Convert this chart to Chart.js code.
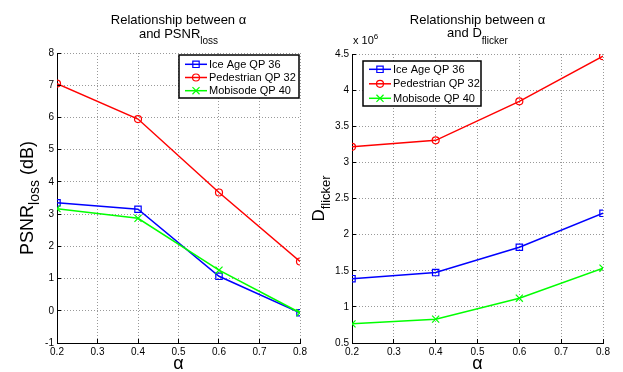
<!DOCTYPE html>
<html>
<head>
<meta charset="utf-8">
<script src="https://cdn.jsdelivr.net/npm/chart.js@4.4.0/dist/chart.umd.min.js"></script>
<style>
    html, body { margin: 0; padding: 0; background: #fff; }
    #wrap { position: relative; width: 623px; height: 372px; overflow: hidden; }
    canvas { position: absolute; top: 0; }
    #psnrChart { left: 0; }
    #flickerChart { left: 300px; }
</style>
</head>
<body>
<div id="wrap">
    <canvas id="psnrChart" width="312" height="372"></canvas>
    <canvas id="flickerChart" width="323" height="372"></canvas>
</div>
<script>
// Data
const alphas = [0.2, 0.4, 0.6, 0.8];
const seriesNames = ['Ice Age QP 36', 'Pedestrian QP 32', 'Mobisode QP 40'];

const iceAgePsnr = [3.35, 3.15, 1.07, -0.06];
const pedestrianPsnr = [7.05, 5.95, 3.67, 1.53];
const mobisodePsnr = [3.17, 2.87, 1.26, -0.06];

const iceAgeFlicker = [1390000, 1475000, 1825000, 2295000];
const pedestrianFlicker = [3215000, 3305000, 3845000, 4470000];
const mobisodeFlicker = [765000, 830000, 1120000, 1535000];

const alphaTicks = [0.2, 0.3, 0.4, 0.5, 0.6, 0.7, 0.8];
const psnrTicks = [-1, 0, 1, 2, 3, 4, 5, 6, 7, 8];
const flickerTicks = [500000, 1000000, 1500000, 2000000, 2500000, 3000000, 3500000, 4000000, 4500000];

const FONT = "'Liberation Sans', Arial, Helvetica, sans-serif";

const lineStyles = [
    { color: '#0000ff', pointStyle: 'rect', radius: 4.5 },
    { color: '#ff0000', pointStyle: 'circle', radius: 3.5 },
    { color: '#00ff00', pointStyle: 'crossRot', radius: 5 }
];

/**
 * Draw a run of text pieces, some of them sub/superscript
 */
function drawParts(ctx, parts, x, y, size, subShift, align) {
    let total = 0;
    const pieces = parts.map(([text, kind]) => {
        const s = kind ? Math.round(size * 0.75) : size;
        ctx.font = `${s}px ${FONT}`;
        const w = ctx.measureText(text).width;
        total += w;
        return { text, kind, s, w };
    });
    let cx = align === 'left' ? x : x - total / 2;
    ctx.textAlign = 'left';
    ctx.textBaseline = 'alphabetic';
    pieces.forEach(p => {
        ctx.font = `${p.s}px ${FONT}`;
        let dy = 0;
        if (p.kind === 'sub') dy = subShift;
        if (p.kind === 'sup') dy = -size * 0.45;
        ctx.fillText(p.text, cx, y + dy);
        cx += p.w;
    });
}

const align = p => Math.round(p - 0.5) + 0.5;

// Titles, axis labels, inward ticks and boxed legend, MATLAB style
const decor = {
    id: 'decor',
    afterDatasetsDraw(chart, args, opts) {
        const ctx = chart.ctx;
        const { left, bottom } = chart.chartArea;
        const xs = chart.scales.x;
        const ys = chart.scales.y;
        ctx.save();
        ctx.strokeStyle = '#000';
        ctx.lineWidth = 1;
        ctx.beginPath();
        xs.ticks.forEach(t => {
            const px = align(xs.getPixelForValue(t.value));
            ctx.moveTo(px, bottom);
            ctx.lineTo(px, bottom - 4);
        });
        ys.ticks.forEach(t => {
            const py = align(ys.getPixelForValue(t.value));
            ctx.moveTo(left, py);
            ctx.lineTo(left + 4, py);
        });
        ctx.stroke();

        // legend box
        const b = opts.legend;
        ctx.fillStyle = '#fff';
        ctx.fillRect(b.x, b.y, b.w, b.h);
        ctx.lineWidth = 1.5;
        ctx.strokeRect(b.x, b.y, b.w, b.h);
        chart.data.datasets.forEach((ds, i) => {
            const st = lineStyles[i];
            const y = b.y + b.rowTop + i * b.step;
            ctx.strokeStyle = st.color;
            ctx.lineWidth = 1.5;
            ctx.beginPath();
            ctx.moveTo(b.x + 6, y);
            ctx.lineTo(b.x + 28, y);
            ctx.stroke();
            ctx.fillStyle = 'rgba(0,0,0,0)';
            ctx.lineWidth = 1.2;
            Chart.helpers.drawPoint(ctx, {
                pointStyle: st.pointStyle, radius: st.radius, rotation: 0, borderWidth: 1.2
            }, b.x + 17, y);
            ctx.fillStyle = '#000';
            ctx.font = `11px ${FONT}`;
            ctx.textAlign = 'left';
            ctx.textBaseline = 'middle';
            ctx.fillText(ds.label, b.x + 30, y + 0.5);
        });
        ctx.restore();
    },
    afterDraw(chart, args, opts) {
        const ctx = chart.ctx;
        const { left, right, top, bottom } = chart.chartArea;
        const mid = (left + right) / 2;
        ctx.save();
        ctx.fillStyle = '#000';

        // title, two lines
        drawParts(ctx, [['Relationship between \u03b1', null]], mid, 24, 13, 0);
        drawParts(ctx, opts.title2, mid, opts.title2Y, 13, 6.5);

        // x label
        drawParts(ctx, [['\u03b1', null]], mid, 369, 18, 0);

        // y label, rotated
        ctx.translate(opts.yLabelX, (top + bottom) / 2);
        ctx.rotate(-Math.PI / 2);
        drawParts(ctx, opts.yLabel, 0, 0, opts.yLabelSize, opts.yLabelSize * 0.33);
        ctx.restore();

        if (opts.exponent) {
            ctx.save();
            ctx.fillStyle = '#000';
            drawParts(ctx, [['x 10', null], ['6', 'sup']], left + 1, 44, 11, 0, 'left');
            ctx.restore();
        }
    }
};

function buildChart(canvasId, cfg) {
    return new Chart(document.getElementById(canvasId), {
        type: 'line',
        data: {
            datasets: cfg.series.map((vals, i) => ({
                label: seriesNames[i],
                data: alphas.map((a, j) => ({ x: a, y: vals[j] })),
                borderColor: lineStyles[i].color,
                backgroundColor: 'rgba(0,0,0,0)',
                borderWidth: 1.5,
                pointStyle: lineStyles[i].pointStyle,
                pointRadius: lineStyles[i].radius,
                pointBorderWidth: 1.2,
                pointBorderColor: lineStyles[i].color,
                pointBackgroundColor: 'rgba(0,0,0,0)',
                tension: 0,
                order: 2 - i
            }))
        },
        options: {
            responsive: false,
            animation: false,
            devicePixelRatio: 1,
            layout: { padding: cfg.padding },
            plugins: {
                legend: { display: false },
                tooltip: { enabled: false },
                decor: cfg.decor
            },
            scales: {
                x: {
                    type: 'linear',
                    min: 0.2,
                    max: 0.8,
                    afterBuildTicks: s => { s.ticks = alphaTicks.map(v => ({ value: v })); },
                    afterFit: s => { s.height = 29; },
                    ticks: {
                        callback: v => v.toFixed(1),
                        font: { family: FONT, size: 10 },
                        color: '#000',
                        padding: 3,
                        maxRotation: 0,
                        autoSkip: false
                    },
                    grid: { color: '#999', drawTicks: false },
                    border: { color: '#000', width: 1, dash: [1, 2] }
                },
                y: {
                    type: 'linear',
                    min: cfg.yTicks[0],
                    max: cfg.yTicks[cfg.yTicks.length - 1],
                    afterBuildTicks: s => { s.ticks = cfg.yTicks.map(v => ({ value: v })); },
                    afterFit: s => { s.width = cfg.yAxisWidth; },
                    ticks: {
                        callback: cfg.yFormat,
                        font: { family: FONT, size: 10 },
                        color: '#000',
                        padding: 3,
                        autoSkip: false
                    },
                    grid: { color: '#999', drawTicks: false },
                    border: { color: '#000', width: 1, dash: [1, 2] }
                }
            }
        },
        plugins: [decor]
    });
}

buildChart('psnrChart', {
    series: [iceAgePsnr, pedestrianPsnr, mobisodePsnr],
    yTicks: psnrTicks,
    yFormat: v => String(v),
    yAxisWidth: 40,
    padding: { left: 17, right: 12, top: 53, bottom: 0 },
    decor: {
        title2: [['and PSNR', null], ['loss', 'sub']],
        title2Y: 37.5,
        yLabel: [['PSNR', null], ['loss', 'sub'], [' (dB)', null]],
        yLabelX: 33,
        yLabelSize: 18,
        legend: { x: 179, y: 55, w: 120, h: 43, rowTop: 9.3, step: 13.2 }
    }
});

buildChart('flickerChart', {
    series: [iceAgeFlicker, pedestrianFlicker, mobisodeFlicker],
    yTicks: flickerTicks,
    yFormat: v => String(+(v / 1e6).toFixed(1)),
    yAxisWidth: 30,
    padding: { left: 22, right: 20, top: 54, bottom: 0 },
    decor: {
        title2: [['and D', null], ['flicker', 'sub']],
        title2Y: 37,
        yLabel: [['D', null], ['flicker', 'sub']],
        yLabelX: 24,
        yLabelSize: 17,
        exponent: true,
        legend: { x: 63, y: 61, w: 118, h: 45, rowTop: 8.3, step: 14.5 }
    }
});
</script>
</body>
</html>
